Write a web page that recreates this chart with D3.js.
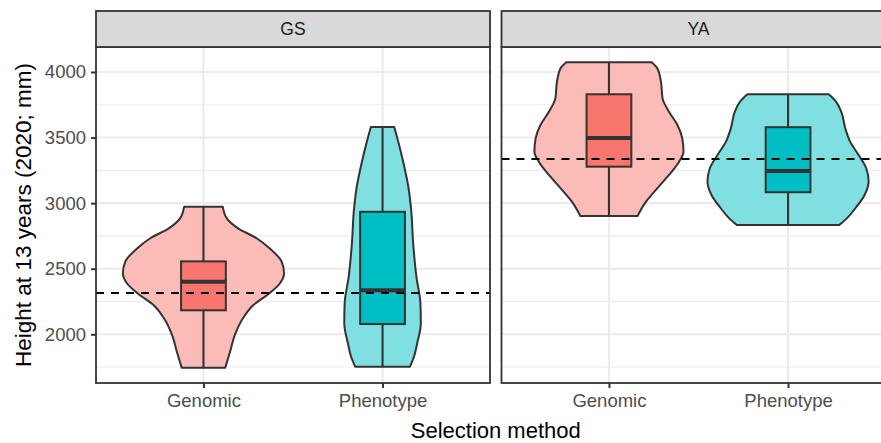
<!DOCTYPE html>
<html><head><meta charset="utf-8">
<script src="https://cdn.jsdelivr.net/npm/d3@7"></script>
<style>body{margin:0;background:#fff}svg{display:block;font-family:"Liberation Sans",Arial,sans-serif}</style>
</head><body><svg id="c" width="881" height="443"></svg>
<script>
// ---- data ----
const panels = ["GS", "YA"];
const methods = ["Genomic", "Phenotype"];
const yTicks = [2000, 2500, 3000, 3500, 4000];
const yMinorTicks = [1750, 2250, 2750, 3250, 3750];
const panelMeans = [2315, 3337];
// box stats: [min, q1, median, q3, max]
const boxGS = [[1745, 2183, 2401, 2556, 2972], [1753, 2078, 2335, 2934, 3580]];
const boxYA = [[2902, 3278, 3497, 3830, 4074], [2833, 3083, 3245, 3579, 3830]];
// violin profiles: [height, relative density]
const violinGSGenomic = [[1745,0.27],[1867,0.33],[1995,0.39],[2122,0.49],[2223,0.62],[2313,0.82],[2389,0.95],[2465,1.0],[2554,0.97],[2656,0.82],[2732,0.66],[2808,0.43],[2884,0.29],[2972,0.24]];
const violinGSPhenotype = [[1753,0.34],[1829,0.39],[1931,0.43],[2084,0.475],[2236,0.47],[2439,0.42],[2694,0.38],[2948,0.355],[3125,0.32],[3304,0.26],[3456,0.20],[3580,0.145]];
const violinYAGenomic = [[2902,0.355],[3011,0.46],[3113,0.60],[3215,0.745],[3316,0.87],[3392,0.925],[3494,0.91],[3596,0.85],[3697,0.745],[3799,0.665],[3926,0.645],[4028,0.60],[4074,0.53]];
const violinYAPhenotype = [[2833,0.635],[2884,0.73],[2961,0.835],[3062,0.95],[3164,1.0],[3266,0.97],[3367,0.875],[3469,0.77],[3571,0.71],[3697,0.66],[3774,0.595],[3830,0.505]];
const boxes = [boxGS, boxYA];
const violins = [[violinGSGenomic, violinGSPhenotype], [violinYAGenomic, violinYAPhenotype]];
const violinFill = ["#FBBBB6", "#80DFE1"];
const boxFill = ["#F8766D", "#00BFC4"];

// ---- layout ----
const svg = d3.select("#c");
const panelTop = 47, panelBottom = 383, stripTop = 11;
const panelW = 394, panelLefts = [96, 501.5];
const dark = "#333333";
const FONT = "Liberation Sans, Arial, sans-serif";

const allVals = boxes.flat().flat();
const lo = d3.min(allVals), hi = d3.max(allVals), ex = (hi - lo) * 0.05;
const y = d3.scaleLinear().domain([lo - ex, hi + ex]).range([panelBottom, panelTop]);

panels.forEach((p, pi) => {
  const L = panelLefts[pi];
  const x = d3.scalePoint().domain(methods).range([L, L + panelW]).padding(0.6);
  const unit = x.step();
  const g = svg.append("g");
  // grid
  g.selectAll(".mi").data(yMinorTicks).join("line")
    .attr("x1", L).attr("x2", L + panelW).attr("y1", d => y(d)).attr("y2", d => y(d))
    .attr("stroke", "#EBEBEB").attr("stroke-width", 1.1);
  g.selectAll(".ma").data(yTicks).join("line")
    .attr("x1", L).attr("x2", L + panelW).attr("y1", d => y(d)).attr("y2", d => y(d))
    .attr("stroke", "#EBEBEB").attr("stroke-width", 2.1);
  g.selectAll(".vx").data(methods).join("line")
    .attr("x1", d => x(d)).attr("x2", d => x(d)).attr("y1", panelTop).attr("y2", panelBottom)
    .attr("stroke", "#EBEBEB").attr("stroke-width", 2.1);

  methods.forEach((m, mi) => {
    const cx = x(m);
    const prof = violins[pi][mi];
    const w = d => d[1] * 0.45 * unit;
    const right = d3.line().x(d => cx + w(d)).y(d => y(d[0])).curve(d3.curveMonotoneY)(prof);
    const left = d3.line().x(d => cx - w(d)).y(d => y(d[0])).curve(d3.curveMonotoneY)(prof.slice().reverse());
    g.append("path").attr("d", right + "L" + left.slice(1) + "Z")
      .attr("fill", violinFill[mi]).attr("stroke", dark).attr("stroke-width", 2)
      .attr("stroke-linejoin", "round");
    const b = boxes[pi][mi];
    const bw = 0.125 * unit;
    g.append("line").attr("x1", cx).attr("x2", cx).attr("y1", y(b[0])).attr("y2", y(b[1]))
      .attr("stroke", dark).attr("stroke-width", 2.1);
    g.append("line").attr("x1", cx).attr("x2", cx).attr("y1", y(b[3])).attr("y2", y(b[4]))
      .attr("stroke", dark).attr("stroke-width", 2.1);
    g.append("rect").attr("x", cx - bw).attr("width", 2 * bw)
      .attr("y", y(b[3])).attr("height", y(b[1]) - y(b[3]))
      .attr("fill", boxFill[mi]).attr("stroke", dark).attr("stroke-width", 2);
    g.append("line").attr("x1", cx - bw).attr("x2", cx + bw).attr("y1", y(b[2])).attr("y2", y(b[2]))
      .attr("stroke", dark).attr("stroke-width", 4);
  });
  // mean line
  g.append("line").attr("x1", L).attr("x2", L + panelW)
    .attr("y1", y(panelMeans[pi])).attr("y2", y(panelMeans[pi]))
    .attr("stroke", "#000").attr("stroke-width", 2).attr("stroke-dasharray", "8,7");
  // border
  g.append("rect").attr("x", L).attr("y", panelTop).attr("width", panelW).attr("height", panelBottom - panelTop)
    .attr("fill", "none").attr("stroke", dark).attr("stroke-width", 1.8);
  // strip
  g.append("rect").attr("x", L).attr("y", stripTop).attr("width", panelW).attr("height", panelTop - stripTop)
    .attr("fill", "#D9D9D9").attr("stroke", dark).attr("stroke-width", 1.8);
  g.append("text").attr("x", L + panelW / 2).attr("y", (stripTop + panelTop) / 2)
    .attr("dy", "0.36em").attr("text-anchor", "middle").attr("font-size", 17.5)
    .attr("fill", "#1A1A1A").text(p);
  // x axis
  const xa = g.append("g").attr("transform", `translate(0,${panelBottom})`)
    .call(d3.axisBottom(x).tickSize(5).tickPadding(6));
  xa.select(".domain").remove();
  xa.selectAll("line").attr("stroke", dark).attr("stroke-width", 2);
  xa.selectAll("text").attr("font-size", 18.5).attr("fill", "#4D4D4D").attr("font-family", FONT);
});

// y axis
const ya = svg.append("g").attr("transform", `translate(${panelLefts[0]},0)`)
  .call(d3.axisLeft(y).tickValues(yTicks).tickFormat(d3.format("d")).tickSize(5).tickPadding(5));
ya.select(".domain").remove();
ya.selectAll("line").attr("stroke", dark).attr("stroke-width", 2);
ya.selectAll("text").attr("font-size", 18.5).attr("fill", "#4D4D4D").attr("font-family", FONT);

// titles
svg.append("text").attr("x", (panelLefts[0] + panelLefts[1] + panelW) / 2).attr("y", 438)
  .attr("text-anchor", "middle").attr("font-size", 22).attr("fill", "#000").text("Selection method");
svg.append("text").attr("transform", `translate(31,${(panelTop + panelBottom) / 2}) rotate(-90)`)
  .attr("text-anchor", "middle").attr("font-size", 22.5).attr("fill", "#000").text("Height at 13 years (2020; mm)");
</script></body></html>
